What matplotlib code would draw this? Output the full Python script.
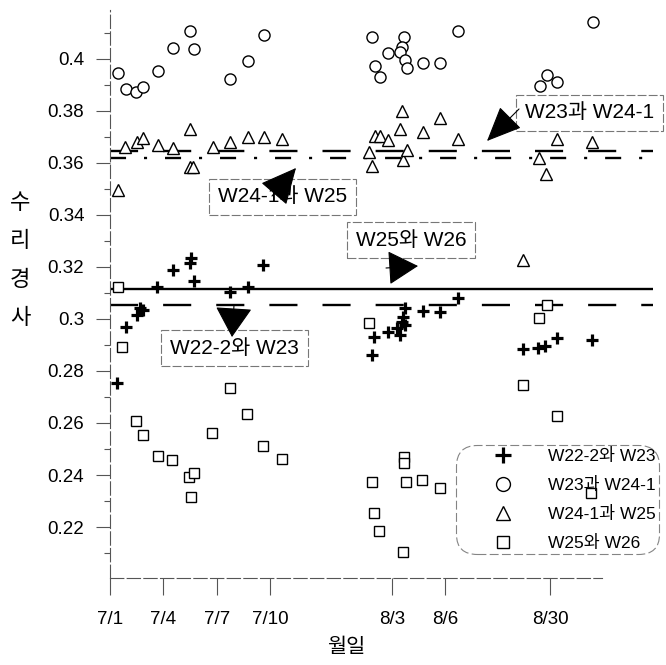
import numpy as np
import matplotlib
matplotlib.use("Agg")
import matplotlib.pyplot as plt
from matplotlib.patches import FancyArrowPatch
from matplotlib.ticker import FuncFormatter, MultipleLocator

plt.rcParams['font.family'] = ['Liberation Sans', 'Noto Sans CJK KR', 'DejaVu Sans']

# x = position on the (compressed) date axis, 7/1 = 0
tick_pos = [0, 3, 6, 9, 15.8, 18.8, 24.7]
tick_labels = ['7/1', '7/4', '7/7', '7/10', '8/3', '8/6', '8/30']

series_names = ['W22-2와 W23', 'W23과 W24-1', 'W24-1과 W25', 'W25와 W26']

plus_x = [0.38, 0.88, 1.50, 1.68, 1.87, 2.62, 3.55, 4.49, 4.54, 4.73, 6.73, 7.72, 8.60,
          14.68, 14.81, 15.61, 16.08, 16.26, 16.36, 16.45, 16.55, 16.55, 17.54, 18.51, 19.53,
          23.18, 24.02, 24.40, 25.05, 27.01]
plus_y = [0.2753, 0.2968, 0.3015, 0.3041, 0.3035, 0.3124, 0.3188, 0.3214, 0.3233, 0.3147, 0.3105, 0.3124, 0.3208,
          0.2862, 0.2932, 0.2951, 0.2964, 0.2938, 0.2990, 0.3009, 0.2977, 0.3041, 0.3032, 0.3028, 0.3080,
          0.2883, 0.2887, 0.2896, 0.2926, 0.2919]

circle_x = [0.47, 0.88, 1.46, 1.87, 2.71, 3.55, 4.49, 4.73, 6.73, 7.72, 8.64,
            14.68, 15.61, 16.49, 16.36, 16.26, 16.55, 16.64, 14.86, 15.14, 17.54, 18.51, 19.53,
            27.07, 24.49, 25.09, 24.12]
circle_y = [0.3947, 0.3883, 0.3874, 0.3893, 0.3955, 0.4043, 0.4109, 0.4038, 0.3922, 0.3993, 0.4092,
            0.4083, 0.4024, 0.4083, 0.4047, 0.4028, 0.3996, 0.3964, 0.3974, 0.3932, 0.3983, 0.3983, 0.4109,
            0.4143, 0.3938, 0.3913, 0.3896]

tri_x = [0.47, 0.84, 1.50, 1.87, 2.71, 3.55, 4.49, 4.49, 4.67, 5.79, 6.73, 7.76, 8.64, 9.66,
         14.54, 14.68, 14.86, 15.14, 15.61, 16.26, 16.36, 16.45, 16.64, 17.54, 18.51, 19.53,
         23.16, 24.08, 24.45, 25.05, 27.01]
tri_y = [0.3496, 0.3663, 0.3680, 0.3695, 0.3669, 0.3657, 0.3731, 0.3583, 0.3583, 0.3663, 0.3682, 0.3699, 0.3699, 0.3692,
         0.3643, 0.3588, 0.3704, 0.3705, 0.3688, 0.3730, 0.3800, 0.3612, 0.3650, 0.3718, 0.3772, 0.3692,
         0.3227, 0.3618, 0.3558, 0.3692, 0.3682]

square_x = [0.47, 0.66, 1.46, 1.83, 2.67, 3.50, 4.43, 4.52, 4.71, 5.74, 6.73, 7.70, 8.60, 9.63,
            14.53, 14.68, 14.82, 15.10, 16.45, 16.51, 16.51, 16.58, 17.52, 18.51,
            23.18, 24.08, 24.49, 25.05, 26.98]
square_y = [0.3124, 0.2893, 0.2609, 0.2554, 0.2473, 0.2458, 0.2393, 0.2317, 0.2406, 0.2560, 0.2736, 0.2633, 0.2513, 0.2460,
            0.2983, 0.2374, 0.2253, 0.2186, 0.2105, 0.2470, 0.2447, 0.2374, 0.2381, 0.2349,
            0.2746, 0.3003, 0.3054, 0.2628, 0.2331]

# reference lines
line_w22_w23 = 0.3052
line_w23_w24 = 0.3646
line_w24_w25 = 0.3619
line_w25_w26 = 0.3115

W, H = 666, 665
fig = plt.figure(figsize=(W / 100, H / 100), dpi=100)
ax = fig.add_axes([110 / W, 87 / H, (653 - 110) / W, (578 - 10) / H])
ax.set_xlim(0, 30.45)
ax.set_ylim(0.2004, 0.4188)

ax.axhline(line_w25_w26, color='black', lw=1.7)
ax.axhline(line_w22_w23, color='black', lw=1.7, linestyle=(0, (11.9, 10.6)))
ax.axhline(line_w23_w24, color='black', lw=1.7, linestyle=(0, (11.9, 10.6)))
ax.axhline(line_w24_w25, color='black', lw=1.7, linestyle=(0, (6.8, 7.6, 1.3, 7.6)))

ax.plot(plus_x, plus_y, linestyle='none', marker='+', ms=9, mew=2.3, color='black', label=series_names[0])
ax.plot(circle_x, circle_y, linestyle='none', marker='o', ms=8, mew=1.0, mfc='white', mec='black', label=series_names[1])
ax.plot(tri_x, tri_y, linestyle='none', marker='^', ms=8.6, mew=1.0, mfc='white', mec='black', label=series_names[2])
ax.plot(square_x, square_y, linestyle='none', marker='s', ms=7.2, mew=1.0, mfc='white', mec='black', label=series_names[3])

# axes styling
for side in ['top', 'right']:
    ax.spines[side].set_visible(False)
for side in ['left', 'bottom']:
    ax.spines[side].set_color('#555555')
    ax.spines[side].set_linewidth(0.8)
    ax.spines[side].set_linestyle((0, (12, 3)))
ax.spines['bottom'].set_bounds(0, 27.6)

ax.set_xticks(tick_pos)
ax.set_xticklabels(tick_labels)
ax.yaxis.set_minor_locator(MultipleLocator(0.01))
ax.set_yticks(np.arange(0.22, 0.401, 0.02))
ax.yaxis.set_major_formatter(FuncFormatter(lambda v, p: '%g' % round(v, 2)))
ax.tick_params(axis='y', which='major', length=10, width=0.8, color='#555555', pad=8.5, labelsize=13.5)
ax.tick_params(axis='y', which='minor', length=4, width=0.8, color='#555555')
ax.tick_params(axis='x', length=12, width=0.8, color='#555555', pad=12, labelsize=13.5)

fig.text(20 / W, 1 - 261 / H, '수\n리\n경\n사', ha='center', va='center', fontsize=16, linespacing=2.1)
fig.text(346 / W, 1 - 648 / H, '월일', ha='center', va='center', fontsize=15)

# labelled boxes
box = dict(boxstyle='square,pad=0.42', fc='white', ec='#777777', lw=0.8, ls=(0, (8, 2)))
fig.text(525 / W, 1 - 113 / H, 'W23과 W24-1', ha='left', va='center', fontsize=15, bbox=box)
fig.text(218 / W, 1 - 197 / H, 'W24-1과 W25', ha='left', va='center', fontsize=15, bbox=box)
fig.text(356 / W, 1 - 240 / H, 'W25와 W26', ha='left', va='center', fontsize=15, bbox=box)
fig.text(170 / W, 1 - 348 / H, 'W22-2와 W23', ha='left', va='center', fontsize=15, bbox=box)

# wedge arrows drawn over the boxes (pixels from top-left: tip, tail)
arrows = [((487, 141), (519, 109), 2.23, 0.97),
          ((296, 168), (272, 196), 2.3, 1.1),
          ((418, 266), (386, 268), 1.94, 1.1),
          ((232, 337), (234, 305), 1.94, 1.19)]
for tip, tail, hl, hw in arrows:
    arr = FancyArrowPatch((tail[0] / W, 1 - tail[1] / H), (tip[0] / W, 1 - tip[1] / H),
                          transform=fig.transFigure,
                          arrowstyle='-|>,head_length=%g,head_width=%g' % (hl, hw),
                          mutation_scale=10, color='black', lw=0.8,
                          shrinkA=0, shrinkB=0, zorder=10)
    fig.add_artist(arr)

leg = ax.legend(loc='upper left', bbox_to_anchor=(456 / W, 1 - 445 / H), bbox_transform=fig.transFigure,
                borderaxespad=0, fontsize=12.5, handlelength=5.0, handletextpad=0.1, borderpad=0.2,
                labelspacing=0.74, markerscale=1.25, fancybox=True, facecolor='none', edgecolor='#666666')
leg.get_frame().set_boxstyle('round,pad=0,rounding_size=1.2')
leg.get_frame().set_linestyle((0, (8, 3)))
leg.get_frame().set_linewidth(0.8)

fig.savefig('out.png', dpi=100)
